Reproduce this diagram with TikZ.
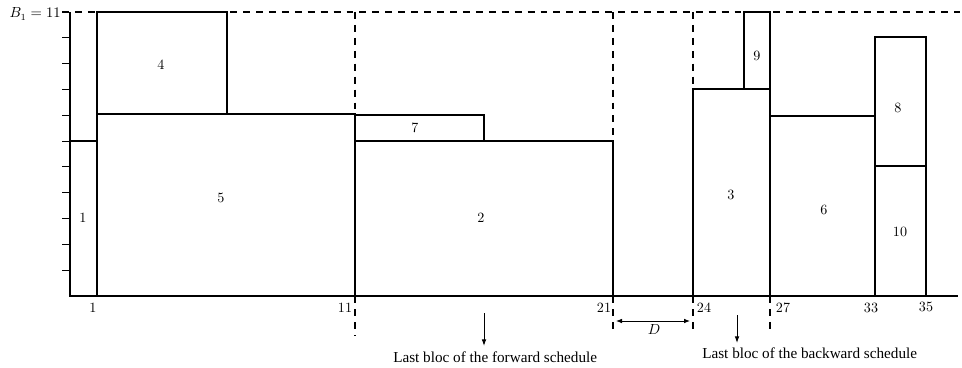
\documentclass[tikz,border=0pt]{standalone}
\usepackage{fontspec}
\newfontfamily\capfont{Liberation Serif}
\usetikzlibrary{arrows.meta}
\begin{document}
\begin{tikzpicture}[x=0.75pt,y=-0.75pt,
  blk/.style={draw, line width=1pt},
  dsh/.style={dash pattern=on 5.2pt off 4.5pt, line width=0.9pt},
  axisline/.style={line width=1.4pt},
  lbl/.style={font=\fontsize{10.6}{12}\selectfont, inner sep=0pt},
  captxt/.style={font=\capfont\fontsize{11.4}{13}\selectfont, inner sep=0pt},
  arr/.style={-{Latex[length=5pt,width=3.5pt]}, line width=0.7pt}]
\useasboundingbox (0,0) rectangle (962,367);
% dashed guides
\draw[dsh] (62,12) -- (960,12);
\draw[dsh] (355,12) -- (355,336);
\draw[dsh] (613,12) -- (613,331);
\draw[dsh] (693,12) -- (693,331);
\draw[dsh] (770,296) -- (770,331);
% blocks
\draw[blk] (70,141) rectangle (97,296);
\draw[blk] (97,114) rectangle (355,296);
\draw[blk] (97,12) rectangle (227,114);
\draw[blk] (355,141) rectangle (613,296);
\draw[blk] (355,115) rectangle (484,141);
\draw[blk] (693,89) rectangle (770,296);
\draw[blk] (744,12) rectangle (770,89);
\draw[blk] (770,116) rectangle (875,296);
\draw[blk] (875,166) rectangle (926,296);
\draw[blk] (875,37) rectangle (926,166);
% block labels
\node[lbl] (l1) at (83,218) {1};
\node[lbl] (l5) at (221,198) {5};
\node[lbl] (l4) at (161,65) {4};
\node[lbl] (l2) at (481,218) {2};
\node[lbl] (l7) at (415,128) {7};
\node[lbl] (l3) at (731,195) {3};
\node[lbl] (l9) at (757,56) {9};
\node[lbl] (l6) at (824,210) {6};
\node[lbl] (l10) at (900,232) {10};
\node[lbl] (l8) at (898,108) {8};
% axes
\draw[axisline] (70,12) -- (70,296) -- (958,296);
\foreach \i in {1,...,11} \draw[line width=0.7pt] (62,{296-25.82*\i}) -- (70,{296-25.82*\i});
\node[lbl, anchor=east] (b1) at (61,14) {$B_1=11$};
% x labels
\node[lbl] (x1) at (93,308) {1};
\node[lbl] (x11) at (345,308) {11};
\node[lbl] (x21) at (604,308) {21};
\node[lbl] (x24) at (704,308) {24};
\node[lbl] (x27) at (783,308) {27};
\node[lbl] (x33) at (871,308) {33};
\node[lbl] (x35) at (926,307) {35};
% D arrow
\coordinate (d1) at (616,321);
\coordinate (d2) at (690,321);
\draw[{Latex[length=4.5pt,width=3.5pt]}-{Latex[length=4.5pt,width=3.5pt]}, line width=0.7pt] (d1) -- (d2);
\node[lbl] (D) at (654,330) {$D$};
% captions and arrows
\coordinate (fa) at (484,313);
\coordinate (fb) at (484,346);
\draw[arr] (fa) -- (fb);
\node[captxt, anchor=west] (fwd) at (393,357) {Last bloc of the forward schedule};
\coordinate (ba) at (737,315);
\coordinate (bb) at (737,343);
\draw[arr] (ba) -- (bb);
\node[captxt, anchor=west] (bwd) at (702,353) {Last bloc of the backward schedule};
\end{tikzpicture}
\end{document}
